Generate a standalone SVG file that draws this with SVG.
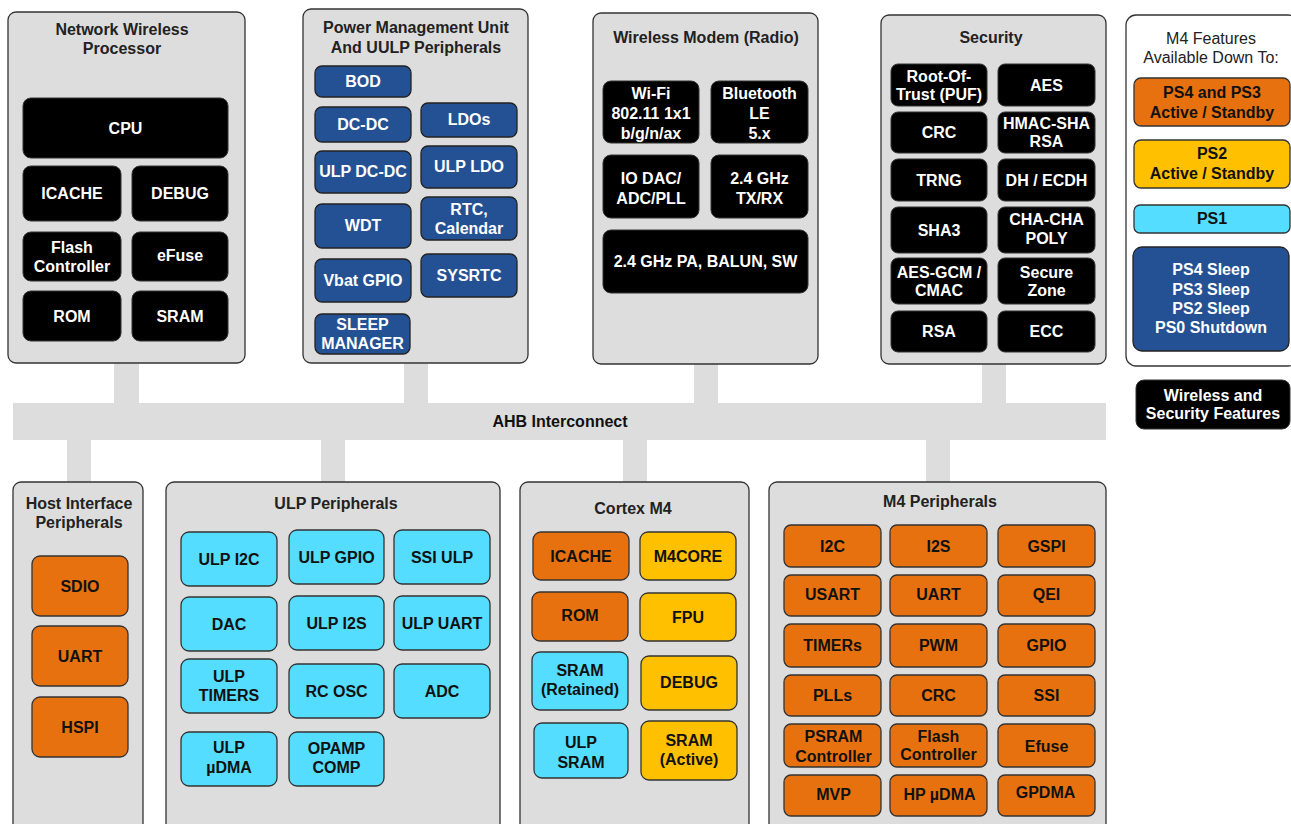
<svg xmlns="http://www.w3.org/2000/svg" width="1291" height="824" viewBox="0 0 1291 824">
<style>
.grp{fill:#dddddd;stroke:#333;stroke-width:1.3}
.leg{fill:#ffffff;stroke:#333;stroke-width:1.3}
.bk{fill:#000000;stroke:#333;stroke-width:1}
.bl{fill:#245193;stroke:#222;stroke-width:1.3}
.or{fill:#e8710f;stroke:#333;stroke-width:1.3}
.ye{fill:#ffc000;stroke:#333;stroke-width:1.3}
.cy{fill:#55ddff;stroke:#333;stroke-width:1.3}
.bus{fill:#dddddd}
text{font-family:"Liberation Sans",Arial,sans-serif;font-size:16px;font-weight:bold;text-anchor:middle}
.w{fill:#ffffff}
.k{fill:#111111}
.ti{fill:#222222}
.rg{font-weight:normal;fill:#222222}
</style>

<g id="connectors">
<rect class="bus" x="114" y="362" width="25" height="42"/>
<rect class="bus" x="404" y="362" width="24" height="42"/>
<rect class="bus" x="694" y="363" width="24" height="41"/>
<rect class="bus" x="982" y="363" width="24" height="41"/>
<rect class="bus" x="67" y="439" width="24" height="44"/>
<rect class="bus" x="321" y="439" width="24" height="44"/>
<rect class="bus" x="623" y="439" width="24" height="44"/>
<rect class="bus" x="926" y="439" width="24" height="44"/>
</g>

<g id="ahb-interconnect">
<rect class="bus" x="13" y="403" width="1093" height="37"/>
<text class="k" x="560" y="427">AHB Interconnect</text>
</g>

<g id="network-wireless-processor">
<rect class="grp" x="8" y="12" width="237" height="351" rx="8"/>
<text class="ti" x="122" y="34.5">Network Wireless</text>
<text class="ti" x="122" y="53.5">Processor</text>
<g id="nwp-cpu"><rect class="bk" x="23" y="98" width="205" height="60" rx="8"/><text class="w" x="125.5" y="133.5">CPU</text></g>
<g id="nwp-icache"><rect class="bk" x="23" y="166" width="98" height="55" rx="8"/><text class="w" x="72" y="199">ICACHE</text></g>
<g id="nwp-debug"><rect class="bk" x="132" y="166" width="96" height="55" rx="8"/><text class="w" x="180" y="199">DEBUG</text></g>
<g id="nwp-flash"><rect class="bk" x="23" y="232" width="98" height="49" rx="8"/><text class="w" x="72" y="252.5">Flash</text><text class="w" x="72" y="271.5">Controller</text></g>
<g id="nwp-efuse"><rect class="bk" x="132" y="232" width="96" height="49" rx="8"/><text class="w" x="180" y="261">eFuse</text></g>
<g id="nwp-rom"><rect class="bk" x="23" y="291" width="98" height="50" rx="8"/><text class="w" x="72" y="321.5">ROM</text></g>
<g id="nwp-sram"><rect class="bk" x="132" y="291" width="96" height="50" rx="8"/><text class="w" x="180" y="321.5">SRAM</text></g>
</g>

<g id="power-management-unit">
<rect class="grp" x="303" y="9" width="225" height="354" rx="8"/>
<text class="ti" x="416" y="32.5">Power Management Unit</text>
<text class="ti" x="416" y="52.5">And UULP Peripherals</text>
<g id="pmu-bod"><rect class="bl" x="315" y="66" width="96" height="31" rx="7"/><text class="w" x="363" y="86.5">BOD</text></g>
<g id="pmu-dcdc"><rect class="bl" x="315" y="107" width="96" height="35" rx="7"/><text class="w" x="363" y="130">DC-DC</text></g>
<g id="pmu-ldos"><rect class="bl" x="421" y="103" width="96" height="34" rx="7"/><text class="w" x="469" y="125">LDOs</text></g>
<g id="pmu-ulpdcdc"><rect class="bl" x="315" y="151" width="96" height="42" rx="7"/><text class="w" x="363" y="177">ULP DC-DC</text></g>
<g id="pmu-ulpldo"><rect class="bl" x="421" y="146" width="96" height="42" rx="7"/><text class="w" x="469" y="171.5">ULP LDO</text></g>
<g id="pmu-wdt"><rect class="bl" x="315" y="204" width="96" height="44" rx="7"/><text class="w" x="363" y="230.5">WDT</text></g>
<g id="pmu-rtc"><rect class="bl" x="421" y="197" width="96" height="43" rx="7"/><text class="w" x="469" y="214.5">RTC,</text><text class="w" x="469" y="233.5">Calendar</text></g>
<g id="pmu-vbat"><rect class="bl" x="315" y="259" width="96" height="43" rx="7"/><text class="w" x="363" y="285.5">Vbat GPIO</text></g>
<g id="pmu-sysrtc"><rect class="bl" x="421" y="254" width="96" height="43" rx="7"/><text class="w" x="469" y="280.5">SYSRTC</text></g>
<g id="pmu-sleep"><rect class="bl" x="315" y="314" width="95" height="40" rx="7"/><text class="w" x="362.5" y="329.5">SLEEP</text><text class="w" x="362.5" y="348.5">MANAGER</text></g>
</g>

<g id="wireless-modem">
<rect class="grp" x="593" y="13" width="225" height="351" rx="8"/>
<text class="ti" x="706" y="42.5">Wireless Modem (Radio)</text>
<g id="wm-wifi"><rect class="bk" x="603" y="81" width="96" height="62" rx="8"/><text class="w" x="651" y="98.5">Wi-Fi</text><text class="w" x="651" y="118.5">802.11 1x1</text><text class="w" x="651" y="138.5">b/g/n/ax</text></g>
<g id="wm-ble"><rect class="bk" x="711" y="81" width="97" height="62" rx="8"/><text class="w" x="759.5" y="98.5">Bluetooth</text><text class="w" x="759.5" y="118.5">LE</text><text class="w" x="759.5" y="138.5">5.x</text></g>
<g id="wm-iodac"><rect class="bk" x="603" y="155" width="96" height="63" rx="8"/><text class="w" x="651" y="183.5">IO DAC/</text><text class="w" x="651" y="203.5">ADC/PLL</text></g>
<g id="wm-txrx"><rect class="bk" x="711" y="155" width="97" height="63" rx="8"/><text class="w" x="759.5" y="183.5">2.4 GHz</text><text class="w" x="759.5" y="203.5">TX/RX</text></g>
<g id="wm-pa"><rect class="bk" x="603" y="230" width="205" height="63" rx="8"/><text class="w" x="705.5" y="267">2.4 GHz PA, BALUN, SW</text></g>
</g>

<g id="security">
<rect class="grp" x="881" y="15" width="225" height="349" rx="8"/>
<text class="ti" x="991" y="42.5">Security</text>
<g id="sec-rot"><rect class="bk" x="891" y="64" width="96" height="42" rx="7"/><text class="w" x="939" y="81.5">Root-Of-</text><text class="w" x="939" y="99.5">Trust (PUF)</text></g>
<g id="sec-aes"><rect class="bk" x="998" y="64" width="97" height="42" rx="7"/><text class="w" x="1046.5" y="90.5">AES</text></g>
<g id="sec-crc"><rect class="bk" x="891" y="112" width="96" height="41" rx="7"/><text class="w" x="939" y="138">CRC</text></g>
<g id="sec-hmac"><rect class="bk" x="998" y="112" width="97" height="41" rx="7"/><text class="w" x="1046.5" y="128.5">HMAC-SHA</text><text class="w" x="1046.5" y="146.5">RSA</text></g>
<g id="sec-trng"><rect class="bk" x="891" y="159" width="96" height="42" rx="7"/><text class="w" x="939" y="185.5">TRNG</text></g>
<g id="sec-dh"><rect class="bk" x="998" y="159" width="97" height="42" rx="7"/><text class="w" x="1046.5" y="185.5">DH / ECDH</text></g>
<g id="sec-sha3"><rect class="bk" x="891" y="207" width="96" height="46" rx="7"/><text class="w" x="939" y="235.5">SHA3</text></g>
<g id="sec-chacha"><rect class="bk" x="998" y="207" width="97" height="46" rx="7"/><text class="w" x="1046.5" y="224.5">CHA-CHA</text><text class="w" x="1046.5" y="243.5">POLY</text></g>
<g id="sec-aesgcm"><rect class="bk" x="891" y="258" width="96" height="46" rx="7"/><text class="w" x="939" y="277.5">AES-GCM /</text><text class="w" x="939" y="295.5">CMAC</text></g>
<g id="sec-secure"><rect class="bk" x="998" y="258" width="97" height="46" rx="7"/><text class="w" x="1046.5" y="277.5">Secure</text><text class="w" x="1046.5" y="295.5">Zone</text></g>
<g id="sec-rsa"><rect class="bk" x="891" y="311" width="96" height="41" rx="7"/><text class="w" x="939" y="337">RSA</text></g>
<g id="sec-ecc"><rect class="bk" x="998" y="311" width="97" height="41" rx="7"/><text class="w" x="1046.5" y="337">ECC</text></g>
</g>

<g id="legend">
<rect class="leg" x="1126" y="15" width="172" height="351" rx="10"/>
<text class="rg" x="1211" y="43.5">M4 Features</text>
<text class="rg" x="1211" y="62.5">Available Down To:</text>
<g id="leg-ps43"><rect class="or" x="1134" y="78" width="156" height="48" rx="7"/><text class="k" x="1212" y="97.5">PS4 and PS3</text><text class="k" x="1212" y="117.5">Active / Standby</text></g>
<g id="leg-ps2"><rect class="ye" x="1134" y="140" width="156" height="48" rx="7"/><text class="k" x="1212" y="158.5">PS2</text><text class="k" x="1212" y="178.5">Active / Standby</text></g>
<g id="leg-ps1"><rect class="cy" x="1134" y="205" width="156" height="28" rx="6"/><text class="k" x="1212" y="224">PS1</text></g>
<g id="leg-sleep"><rect class="bl" x="1133" y="247" width="156" height="104" rx="9"/><text class="w" x="1211" y="274.5">PS4 Sleep</text><text class="w" x="1211" y="294.5">PS3 Sleep</text><text class="w" x="1211" y="313.5">PS2 Sleep</text><text class="w" x="1211" y="332.5">PS0 Shutdown</text></g>
</g>
<g id="legend-wireless-security"><rect class="bk" x="1136" y="380" width="154" height="49" rx="8"/><text class="w" x="1213" y="400.5">Wireless and</text><text class="w" x="1213" y="418.5">Security Features</text></g>

<g id="host-interface">
<rect class="grp" x="13" y="482" width="130" height="360" rx="8"/>
<text class="ti" x="79" y="508.5">Host Interface</text>
<text class="ti" x="79" y="527.5">Peripherals</text>
<g id="host-sdio"><rect class="or" x="32" y="556" width="96" height="60" rx="8"/><text class="k" x="80" y="591.5">SDIO</text></g>
<g id="host-uart"><rect class="or" x="32" y="626" width="96" height="60" rx="8"/><text class="k" x="80" y="661.5">UART</text></g>
<g id="host-hspi"><rect class="or" x="32" y="697" width="96" height="60" rx="8"/><text class="k" x="80" y="732.5">HSPI</text></g>
</g>

<g id="ulp-peripherals">
<rect class="grp" x="166" y="482" width="334" height="360" rx="8"/>
<text class="ti" x="336" y="508.5">ULP Peripherals</text>
<g id="ulp-i2c"><rect class="cy" x="181" y="532" width="96" height="54" rx="8"/><text class="k" x="229" y="564.5">ULP I2C</text></g>
<g id="ulp-gpio"><rect class="cy" x="289" y="530" width="95" height="54" rx="8"/><text class="k" x="336.5" y="562.5">ULP GPIO</text></g>
<g id="ulp-ssi"><rect class="cy" x="394" y="530" width="96" height="54" rx="8"/><text class="k" x="442" y="562.5">SSI ULP</text></g>
<g id="ulp-dac"><rect class="cy" x="181" y="597" width="96" height="54" rx="8"/><text class="k" x="229" y="629.5">DAC</text></g>
<g id="ulp-i2s"><rect class="cy" x="289" y="596" width="95" height="54" rx="8"/><text class="k" x="336.5" y="628.5">ULP I2S</text></g>
<g id="ulp-uart"><rect class="cy" x="394" y="596" width="96" height="54" rx="8"/><text class="k" x="442" y="628.5">ULP UART</text></g>
<g id="ulp-timers"><rect class="cy" x="181" y="659" width="96" height="54" rx="8"/><text class="k" x="229" y="681.5">ULP</text><text class="k" x="229" y="700.5">TIMERS</text></g>
<g id="ulp-rcosc"><rect class="cy" x="289" y="664" width="95" height="54" rx="8"/><text class="k" x="336.5" y="696.5">RC OSC</text></g>
<g id="ulp-adc"><rect class="cy" x="394" y="664" width="96" height="54" rx="8"/><text class="k" x="442" y="696.5">ADC</text></g>
<g id="ulp-udma"><rect class="cy" x="181" y="732" width="96" height="54" rx="8"/><text class="k" x="229" y="752.5">ULP</text><text class="k" x="229" y="772.5">µDMA</text></g>
<g id="ulp-opamp"><rect class="cy" x="289" y="732" width="95" height="54" rx="8"/><text class="k" x="336.5" y="753.5">OPAMP</text><text class="k" x="336.5" y="772.5">COMP</text></g>
</g>

<g id="cortex-m4">
<rect class="grp" x="520" y="482" width="229" height="360" rx="8"/>
<text class="ti" x="633" y="513.5">Cortex M4</text>
<g id="m4-icache"><rect class="or" x="533" y="532" width="96" height="48" rx="8"/><text class="k" x="581" y="561.5">ICACHE</text></g>
<g id="m4-core"><rect class="ye" x="640" y="532" width="96" height="48" rx="8"/><text class="k" x="688" y="561.5">M4CORE</text></g>
<g id="m4-rom"><rect class="or" x="532" y="592" width="96" height="49" rx="8"/><text class="k" x="580" y="621">ROM</text></g>
<g id="m4-fpu"><rect class="ye" x="640" y="593" width="96" height="48" rx="8"/><text class="k" x="688" y="622.5">FPU</text></g>
<g id="m4-sramret"><rect class="cy" x="532" y="652" width="96" height="58" rx="8"/><text class="k" x="580" y="675.5">SRAM</text><text class="k" x="580" y="694.5">(Retained)</text></g>
<g id="m4-debug"><rect class="ye" x="641" y="656" width="96" height="54" rx="8"/><text class="k" x="689" y="687.5">DEBUG</text></g>
<g id="m4-ulpsram"><rect class="cy" x="534" y="723" width="94" height="55" rx="8"/><text class="k" x="581" y="747.5">ULP</text><text class="k" x="581" y="767.5">SRAM</text></g>
<g id="m4-sramact"><rect class="ye" x="641" y="721" width="96" height="59" rx="8"/><text class="k" x="689" y="745.5">SRAM</text><text class="k" x="689" y="764.5">(Active)</text></g>
</g>

<g id="m4-peripherals">
<rect class="grp" x="769" y="482" width="337" height="360" rx="8"/>
<text class="ti" x="940" y="506.5">M4 Peripherals</text>
<g id="mp-i2c"><rect class="or" x="784" y="525" width="97" height="42" rx="7"/><text class="k" x="832.5" y="551.5">I2C</text></g>
<g id="mp-i2s"><rect class="or" x="890" y="525" width="97" height="42" rx="7"/><text class="k" x="938.5" y="551.5">I2S</text></g>
<g id="mp-gspi"><rect class="or" x="998" y="525" width="97" height="42" rx="7"/><text class="k" x="1046.5" y="551.5">GSPI</text></g>
<g id="mp-usart"><rect class="or" x="784" y="575" width="97" height="41" rx="7"/><text class="k" x="832.5" y="600">USART</text></g>
<g id="mp-uart"><rect class="or" x="890" y="575" width="97" height="41" rx="7"/><text class="k" x="938.5" y="600">UART</text></g>
<g id="mp-qei"><rect class="or" x="998" y="575" width="97" height="41" rx="7"/><text class="k" x="1046.5" y="600">QEI</text></g>
<g id="mp-timers"><rect class="or" x="784" y="624" width="97" height="43" rx="7"/><text class="k" x="832.5" y="650.5">TIMERs</text></g>
<g id="mp-pwm"><rect class="or" x="890" y="624" width="97" height="43" rx="7"/><text class="k" x="938.5" y="650.5">PWM</text></g>
<g id="mp-gpio"><rect class="or" x="998" y="624" width="97" height="43" rx="7"/><text class="k" x="1046.5" y="650.5">GPIO</text></g>
<g id="mp-plls"><rect class="or" x="784" y="675" width="97" height="41" rx="7"/><text class="k" x="832.5" y="700.5">PLLs</text></g>
<g id="mp-crc"><rect class="or" x="890" y="675" width="97" height="41" rx="7"/><text class="k" x="938.5" y="700.5">CRC</text></g>
<g id="mp-ssi"><rect class="or" x="998" y="675" width="97" height="41" rx="7"/><text class="k" x="1046.5" y="700.5">SSI</text></g>
<g id="mp-psram"><rect class="or" x="784" y="724" width="97" height="43" rx="7"/><text class="k" x="833.5" y="741.5">PSRAM</text><text class="k" x="833.5" y="761.5">Controller</text></g>
<g id="mp-flash"><rect class="or" x="890" y="724" width="97" height="43" rx="7"/><text class="k" x="938.5" y="741.5">Flash</text><text class="k" x="938.5" y="759.5">Controller</text></g>
<g id="mp-efuse"><rect class="or" x="998" y="724" width="97" height="43" rx="7"/><text class="k" x="1046.5" y="751.5">Efuse</text></g>
<g id="mp-mvp"><rect class="or" x="784" y="775" width="97" height="41" rx="7"/><text class="k" x="833.5" y="800">MVP</text></g>
<g id="mp-hpudma"><rect class="or" x="890" y="775" width="97" height="41" rx="7"/><text class="k" x="939.5" y="800">HP µDMA</text></g>
<g id="mp-gpdma"><rect class="or" x="998" y="775" width="97" height="41" rx="7"/><text class="k" x="1045.5" y="798">GPDMA</text></g>
</g>
</svg>
